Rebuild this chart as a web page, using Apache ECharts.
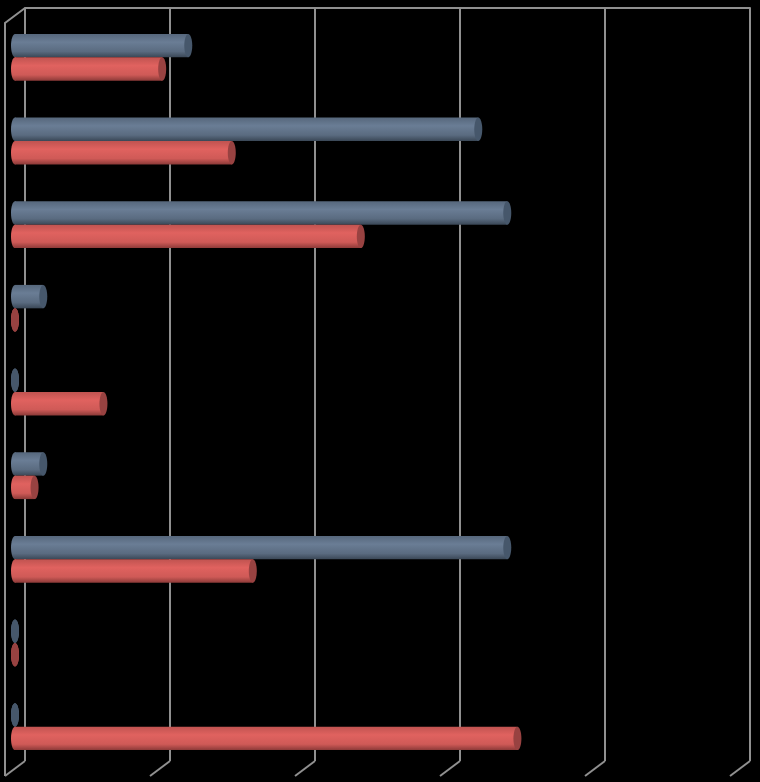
<!DOCTYPE html>
<html>
<head>
<meta charset="utf-8">
<script src="https://cdn.jsdelivr.net/npm/echarts@6/dist/echarts.min.js"></script>
<style>
  html, body { margin: 0; padding: 0; background: #000; }
  #chart { width: 760px; height: 782px; }
</style>
</head>
<body>
<div id="chart"></div>
<script>
/* jshint esversion: 6 */
// =====================================================================================================================
// Données
let categories = ['1', '2', '3', '4', '5', '6', '7', '8', '9'];
let serieBleue = [23.9, 63.9, 67.9, 3.9, 0, 3.9, 67.9, 0, 0];
let serieRouge = [20.3, 29.9, 47.7, 0, 12.2, 2.7, 32.8, 0, 69.3];
let ticks = [0, 20, 40, 60, 80, 100];

// profondeur de la perspective (px)
let depthX = -20;
let depthY = 15;
let color_grid = '#909090';

function cylinderStyle(stops) {
  'use strict';
  return new echarts.graphic.LinearGradient(0, 0, 0, 1, stops);
}

let fillBleu = cylinderStyle([
  {offset: 0, color: '#56677c'},
  {offset: 0.35, color: '#6a7d95'},
  {offset: 0.75, color: '#5a6b80'},
  {offset: 1, color: '#3a4756'}
]);
let fillRouge = cylinderStyle([
  {offset: 0, color: '#c05350'},
  {offset: 0.35, color: '#e0625f'},
  {offset: 0.75, color: '#cf5a57'},
  {offset: 1, color: '#8c3a38'}
]);

// =====================================================================================================================
// Cylindre horizontal
function cylinder(slot, fill, capColor) {
  'use strict';
  return function (params, api) {
    let idx = api.value(0);
    let start = api.coord([0, idx]);
    let end = api.coord([api.value(1), idx]);
    let band = api.size([0, 1])[1];
    let h = band * 0.28;
    let cy = start[1] + depthY / 2 + (slot - 0.5) * h;
    let x0 = start[0] + depthX / 2;
    let x1 = end[0] + depthX / 2;
    let rx = 4;
    return {
      type: 'group',
      children: [
        {type: 'ellipse', shape: {cx: x0, cy: cy, rx: rx, ry: h / 2}, style: {fill: fill}},
        {type: 'rect', shape: {x: x0, y: cy - h / 2, width: x1 - x0, height: h}, style: {fill: fill}},
        {type: 'ellipse', shape: {cx: x1, cy: cy, rx: rx, ry: h / 2}, style: {fill: capColor}}
      ]
    };
  };
}

// =====================================================================================================================
// Sol et mur gauche en perspective
function frame(params, api) {
  'use strict';
  let v = api.value(0);
  let top = api.coord([v, 0]);
  let bottom = api.coord([v, categories.length - 1]);
  let band = api.size([0, 1])[1];
  let yTop = top[1] - band / 2;
  let yBot = bottom[1] + band / 2;
  let children = [
    {type: 'line', shape: {x1: top[0], y1: yBot, x2: top[0] + depthX, y2: yBot + depthY},
      style: {stroke: color_grid, lineWidth: 2}}
  ];
  if (v === 0) {
    children.push({
      type: 'polyline',
      shape: {points: [[top[0], yTop], [top[0] + depthX, yTop + depthY], [top[0] + depthX, yBot + depthY]]},
      style: {stroke: color_grid, lineWidth: 2, fill: null}
    });
  }
  return {type: 'group', children: children};
}

// =====================================================================================================================
let dom = document.getElementById('chart');
let chart = echarts.init(dom);
let option = {
  backgroundColor: '#000',
  animation: false,
  grid: {left: 25, right: 10, top: 8, bottom: 21},
  xAxis: {
    type: 'value',
    position: 'top',
    min: 0,
    max: 100,
    interval: 20,
    axisLine: {show: true, lineStyle: {color: color_grid, width: 2}},
    axisTick: {show: false},
    axisLabel: {show: false},
    splitLine: {show: true, lineStyle: {color: color_grid, width: 2}}
  },
  yAxis: {
    type: 'category',
    inverse: true,
    data: categories,
    axisLine: {show: false},
    axisTick: {show: false},
    axisLabel: {show: false}
  },
  series: [
    {
      name: 'frame',
      type: 'custom',
      silent: true,
      renderItem: frame,
      data: ticks.map(function (t) { return [t]; }),
      encode: {x: 0}
    },
    {
      name: 'Bleu',
      type: 'custom',
      renderItem: cylinder(0, fillBleu, '#46576b'),
      data: serieBleue.map(function (v, i) { return [i, v]; }),
      encode: {y: 0, x: 1}
    },
    {
      name: 'Rouge',
      type: 'custom',
      renderItem: cylinder(1, fillRouge, '#984241'),
      data: serieRouge.map(function (v, i) { return [i, v]; }),
      encode: {y: 0, x: 1}
    }
  ]
};
option && chart.setOption(option);
</script>
</body>
</html>
